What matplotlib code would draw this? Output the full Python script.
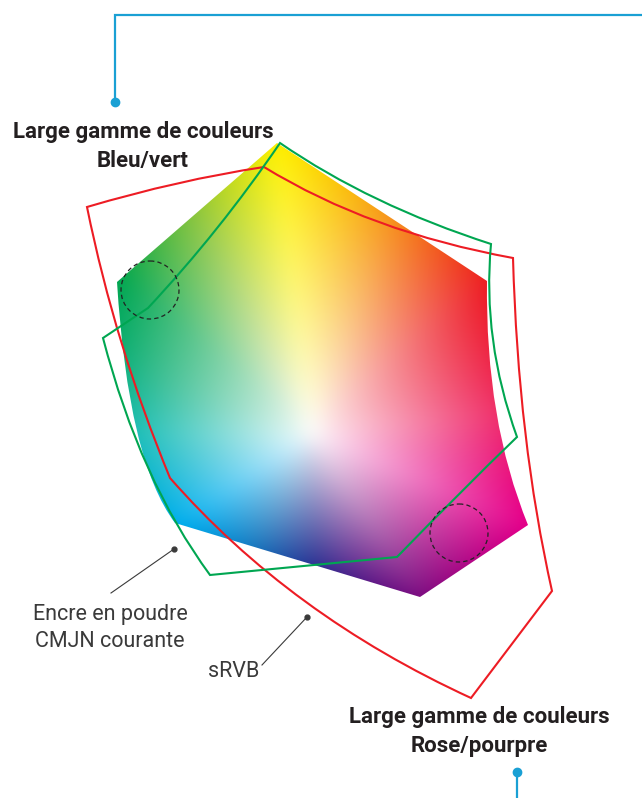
import numpy as np
import matplotlib
matplotlib.use("Agg")
import matplotlib.pyplot as plt
from matplotlib.path import Path
from matplotlib.patches import PathPatch, Circle
from matplotlib.colors import to_rgb

# ---------------------------------------------------------------------------
# Shapes (pixel coordinates, y downwards); ctrl = quadratic control for edge i -> i+1
# ---------------------------------------------------------------------------
HEX_PTS = [(277, 143), (487, 281), (528, 525), (420, 597), (175, 523), (117, 282)]
HEX_CTRL = [None, (485, 420), None, None, (128, 460), None]

CMYK_PTS = [(280, 143), (148, 308), (103, 338), (210, 575), (397, 557), (517, 437), (491, 244)]
CMYK_CTRL = [(220, 231), None, (140, 480), None, (462, 490), (482, 340), (370, 205)]

SRGB_PTS = [(264, 167), (513, 258), (552, 591), (471, 698), (170, 478), (87, 207)]
SRGB_CTRL = [(370, 232), (518, 440), None, (290, 615), (115, 345), (178, 180)]

WHITE_POINT = (312, 432)

# hue stops: angle (deg, counter-clockwise from +x) -> colour
STOP_ANGLES = [-145, -115, -88, -57, -23, 5, 40, 70, 97, 118, 142, 160, 180]
STOP_COLORS = ["#00aeef", "#1b75bc", "#2e3192", "#7c0f82", "#e6008b", "#f0346e",
               "#ed1c24", "#f7941d", "#fff200", "#8dc63f", "#00a651", "#15b27e",
               "#22c0b8"]

DASH_CIRCLES = [(150, 290), (459, 533)]
DASH_RADIUS = 29

TITLE_TOP = ["Large gamme de couleurs", "Bleu/vert"]
TITLE_BOTTOM = ["Large gamme de couleurs", "Rose/pourpre"]
LABEL_CMYK = ["Encre en poudre", "CMJN courante"]
LABEL_SRGB = ["sRVB"]

BLUE = "#1aa0d4"
RED = "#ed1c24"
GREEN = "#00a651"
INK = "#231f20"
GREY = "#3a3a3a"


def bezier_points(pts, ctrls, n=40):
    out = []
    for i, p0 in enumerate(pts):
        p1 = pts[(i + 1) % len(pts)]
        t = np.linspace(0, 1, n, endpoint=False)[:, None]
        a, b = np.array(p0, float), np.array(p1, float)
        if ctrls[i] is None:
            seg = (1 - t) * a + t * b
        else:
            c = np.array(ctrls[i], float)
            seg = (1 - t) ** 2 * a + 2 * t * (1 - t) * c + t ** 2 * b
        out.append(seg)
    return np.vstack(out)


def shape_path(pts, ctrls):
    verts, codes = [pts[0]], [Path.MOVETO]
    for i in range(len(pts)):
        nxt = pts[(i + 1) % len(pts)]
        if ctrls[i] is None:
            verts.append(nxt)
            codes.append(Path.LINETO)
        else:
            verts += [ctrls[i], nxt]
            codes += [Path.CURVE3, Path.CURVE3]
    verts.append(pts[0])
    codes.append(Path.CLOSEPOLY)
    return Path(verts, codes)


def box_blur(a, r, axis):
    pad = [(0, 0)] * a.ndim
    pad[axis] = (r + 1, r)
    c = np.cumsum(np.pad(a, pad, mode="edge"), axis=axis)
    n = a.shape[axis]
    hi = np.take(c, np.arange(2 * r + 1, 2 * r + 1 + n), axis=axis)
    lo = np.take(c, np.arange(0, n), axis=axis)
    return (hi - lo) / (2 * r + 1)


def smooth(a, r, passes=3):
    for _ in range(passes):
        a = box_blur(box_blur(a, r, 0), r, 1)
    return a


W, H = 642, 798
fig = plt.figure(figsize=(W / 100, H / 100), dpi=100, facecolor="white")
ax = fig.add_axes([0, 0, 1, 1])
ax.set_xlim(0, W)
ax.set_ylim(H, 0)
ax.axis("off")

# ---- colour gamut fill ----
cx, cy = WHITE_POINT
yy, xx = np.mgrid[0:H, 0:W] + 0.5
dx, dy = xx - cx, cy - yy
ang = np.degrees(np.arctan2(dy, dx))
rad = np.hypot(dx, dy)

bpts = bezier_points(HEX_PTS, HEX_CTRL, 120)
b_ang = np.degrees(np.arctan2(cy - bpts[:, 1], bpts[:, 0] - cx))
b_rad = np.hypot(bpts[:, 0] - cx, bpts[:, 1] - cy)
R = np.interp(ang, b_ang, b_rad, period=360)
t = np.clip(rad / R, 0, 1.15)
t = np.clip(smooth(t, 8), 0, 1) ** 0.9

stops = np.array([to_rgb(c) for c in STOP_COLORS])
hue = np.empty((H, W, 3))
for k in range(3):
    hue[..., k] = np.interp(ang, STOP_ANGLES, stops[:, k], period=360)
hue = smooth(hue, 8)
img = 1 - t[..., None] * (1 - hue)

hex_patch = PathPatch(shape_path(HEX_PTS, HEX_CTRL), facecolor="none", edgecolor="none")
ax.add_patch(hex_patch)
im = ax.imshow(np.clip(img, 0, 1), extent=(0, W, H, 0), interpolation="bilinear", zorder=1)
im.set_clip_path(hex_patch)

# ---- gamut outlines ----
ax.add_patch(PathPatch(shape_path(SRGB_PTS, SRGB_CTRL), facecolor="none",
                       edgecolor=RED, lw=1.5, joinstyle="miter", zorder=3))
ax.add_patch(PathPatch(shape_path(CMYK_PTS, CMYK_CTRL), facecolor="none",
                       edgecolor=GREEN, lw=1.5, joinstyle="miter", zorder=4))

for c in DASH_CIRCLES:
    ax.add_patch(Circle(c, DASH_RADIUS, facecolor="none", edgecolor="#222222",
                        lw=0.9, linestyle=(0, (3.5, 2.5)), zorder=5))

# ---- blue callout lines ----
ax.plot([115, 115, W], [102, 15, 15], color=BLUE, lw=1.6, solid_joinstyle="miter", zorder=6)
ax.plot([115], [102], "o", color=BLUE, ms=6, zorder=6)
ax.plot([517, 517], [772, H], color=BLUE, lw=1.6, zorder=6)
ax.plot([517], [772], "o", color=BLUE, ms=6, zorder=6)

# ---- leader lines ----
ax.plot([174, 111], [549, 593], color=GREY, lw=0.8, zorder=6)
ax.plot([174], [549], "o", color=GREY, ms=3.5, zorder=6)
ax.plot([307, 262], [617, 665], color=GREY, lw=0.8, zorder=6)
ax.plot([307], [617], "o", color=GREY, ms=3.5, zorder=6)

# ---- texts ----
tfont = dict(family=["Roboto", "DejaVu Sans"], fontweight="bold", fontsize=16,
             color=INK, ha="center", va="baseline", zorder=7)
for txt, yb in zip(TITLE_TOP, [138, 167]):
    ax.text(143, yb, txt, **tfont)
for txt, yb in zip(TITLE_BOTTOM, [723, 752]):
    ax.text(479, yb, txt, **tfont)

lfont = dict(family=["Roboto", "DejaVu Sans"], fontweight="normal", fontsize=15.5,
             color=GREY, ha="center", va="baseline", zorder=7)
for txt, yb in zip(LABEL_CMYK, [620, 647]):
    ax.text(110, yb, txt, **lfont)
ax.text(234, 677, LABEL_SRGB[0], **lfont)

fig.savefig("out.png", dpi=100, facecolor="white")
